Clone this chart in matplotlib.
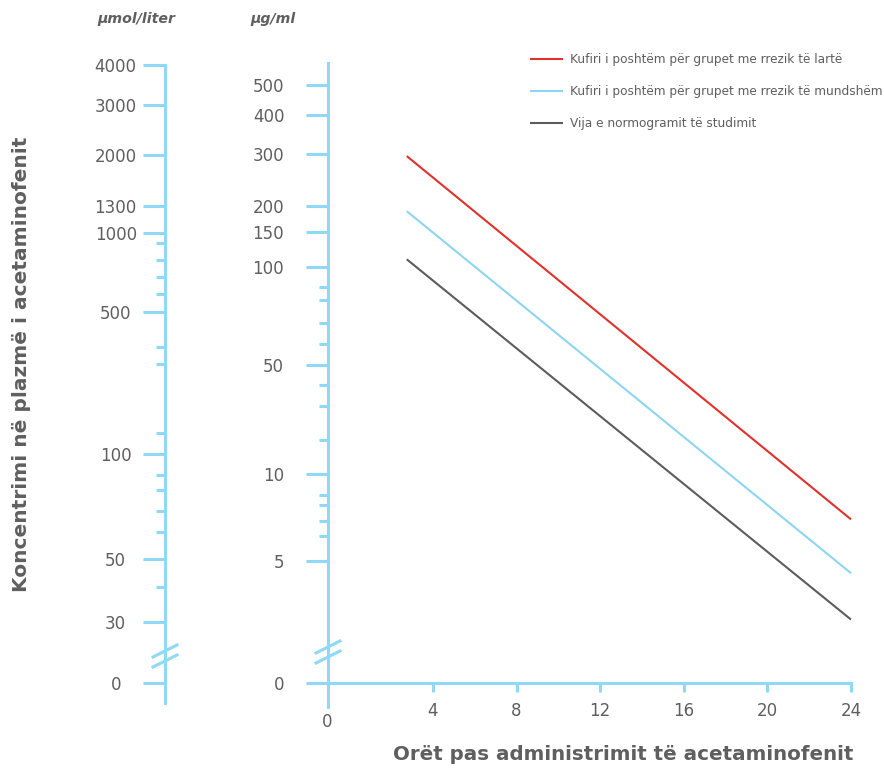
import numpy as np
import matplotlib
matplotlib.use("Agg")
import matplotlib.pyplot as plt
from matplotlib.ticker import NullLocator

W, H = 884, 769

# series: hours after ingestion and plasma level in µg/ml at both ends of each line
HOURS = [3, 24]
HIGH_RISK = [296, 7.1]
POSSIBLE_RISK = [190, 4.5]
STUDY_LINE = [111, 2.6]

LABELS = [
    "Kufiri i poshtëm për grupet me rrezik të lartë",
    "Kufiri i poshtëm për grupet me rrezik të mundshëm",
    "Vija e normogramit të studimit",
]

UG_MAJOR = [0, 5, 10, 50, 100, 150, 200, 300, 400, 500]
UG_MINOR = [6, 7, 8, 9, 20, 30, 40, 60, 70, 80, 90]
UMOL_MAJOR = [0, 30, 50, 100, 500, 1000, 1300, 2000, 3000, 4000]
UMOL_MINOR = [40, 60, 70, 80, 90, 200, 300, 400, 600, 700, 800, 900]
HOUR_TICKS = [4, 8, 12, 16, 20, 24]

# layout of the hand drawn scales (pixel row / column of each tick value)
UG_PX = {0: 683, 5: 561, 6: 536, 7: 521, 8: 505, 9: 495, 10: 474, 20: 440,
         30: 406, 40: 385, 50: 365, 60: 344, 70: 323, 80: 300, 90: 287,
         100: 267, 150: 232, 200: 206, 300: 154, 400: 115, 500: 85}
UMOL_PX = {0: 683, 30: 622, 40: 587, 50: 559, 60: 532, 70: 511, 80: 490,
           90: 475, 100: 454, 200: 433, 300: 364, 400: 347, 500: 312,
           600: 294, 700: 277, 800: 260, 900: 243, 1000: 233, 1300: 206,
           2000: 155, 3000: 105, 4000: 65}
HOUR_PX = {0: 328, 4: 433, 24: 851}

BLUE = "#8fd8f6"
RED = "#e0312b"
CYAN = "#8dd5f0"
DARK = "#5c5c5c"
TEXT = "#5f5f5f"

plt.rcParams["font.family"] = ["DejaVu Sans"]


def piecewise(anchor, flip):
    keys = sorted(anchor)
    vals = np.array(keys, float)
    pos = np.array([H - anchor[k] if flip else anchor[k] for k in keys], float)
    s0 = (pos[1] - pos[0]) / (vals[1] - vals[0])
    s1 = (pos[-1] - pos[-2]) / (vals[-1] - vals[-2])

    def fwd(v):
        v = np.asarray(v, float)
        out = np.interp(v, vals, pos)
        out = np.where(v < vals[0], pos[0] + (v - vals[0]) * s0, out)
        return np.where(v > vals[-1], pos[-1] + (v - vals[-1]) * s1, out)

    def inv(p):
        p = np.asarray(p, float)
        out = np.interp(p, pos, vals)
        out = np.where(p < pos[0], vals[0] + (p - pos[0]) / s0, out)
        return np.where(p > pos[-1], vals[-1] + (p - pos[-1]) / s1, out)

    return fwd, inv


hx_f, hx_i = piecewise(HOUR_PX, False)
ug_f, ug_i = piecewise(UG_PX, True)
um_f, um_i = piecewise(UMOL_PX, True)

fig = plt.figure(figsize=(W / 100, H / 100), dpi=100)

# main plot (µg/ml)
ax = fig.add_axes([0, 0, 1, 1])
ax.patch.set_alpha(0)
ax.set_xscale("function", functions=(hx_f, hx_i))
ax.set_yscale("function", functions=(ug_f, ug_i))
ax.set_xlim(float(hx_i(0)), float(hx_i(W)))
ax.set_ylim(float(ug_i(0)), float(ug_i(H)))

for s in ["top", "right"]:
    ax.spines[s].set_visible(False)
for s in ["left", "bottom"]:
    ax.spines[s].set_position(("data", 0))
    ax.spines[s].set_color(BLUE)
    ax.spines[s].set_linewidth(2.2)
ax.spines["left"].set_bounds(float(ug_i(H - 707)), float(ug_i(H - 63)))
ax.spines["bottom"].set_bounds(float(hx_i(309)), 24)

ax.set_yticks(UG_MAJOR)
ax.set_yticks(UG_MINOR, minor=True)
ax.set_yticklabels([str(v) for v in UG_MAJOR])
ax.tick_params(axis="y", which="major", length=16, width=2.2, color=BLUE,
               pad=15.5, labelsize=12, labelcolor=TEXT)
ax.tick_params(axis="y", which="minor", length=6.5, width=2.2, color=BLUE)

ax.set_xticks(HOUR_TICKS)
ax.xaxis.set_minor_locator(NullLocator())
ax.set_xticklabels([str(v) for v in HOUR_TICKS])
ax.tick_params(axis="x", length=6.5, width=2.2, color=BLUE, pad=7,
               labelsize=12, labelcolor=TEXT)
ax.annotate("0", xy=(0, 0), xytext=(-1, -39), textcoords="offset pixels",
            ha="center", va="center", fontsize=12, color=TEXT)

l1, = ax.plot(HOURS, HIGH_RISK, color=RED, lw=1.5, solid_capstyle="butt")
l2, = ax.plot(HOURS, POSSIBLE_RISK, color=CYAN, lw=1.5, solid_capstyle="butt")
l3, = ax.plot(HOURS, STUDY_LINE, color=DARK, lw=1.5, solid_capstyle="butt")

ax.legend([l1, l2, l3], LABELS, loc="upper left",
          bbox_to_anchor=(530 / W, 1 - 53 / H), bbox_transform=fig.transFigure,
          frameon=False, fontsize=8.7, handlelength=2.75, handletextpad=0.6,
          labelspacing=1.58, borderpad=0, borderaxespad=0, labelcolor=TEXT)

# left scale (µmol/liter)
ax2 = fig.add_axes([0, 0, 1, 1])
ax2.patch.set_alpha(0)
ax2.set_xlim(0, W)
ax2.set_yscale("function", functions=(um_f, um_i))
ax2.set_ylim(float(um_i(0)), float(um_i(H)))
for s in ["top", "right", "bottom"]:
    ax2.spines[s].set_visible(False)
ax2.spines["left"].set_position(("data", 165))
ax2.spines["left"].set_color(BLUE)
ax2.spines["left"].set_linewidth(2.2)
ax2.spines["left"].set_bounds(float(um_i(H - 703)), float(um_i(H - 65)))
ax2.set_xticks([])
ax2.set_yticks(UMOL_MAJOR)
ax2.set_yticks(UMOL_MINOR, minor=True)
ax2.set_yticklabels([str(v) for v in UMOL_MAJOR])
ax2.tick_params(axis="y", which="major", length=16, width=2.2, color=BLUE,
                pad=19.5, labelsize=12, labelcolor=TEXT)
ax2.tick_params(axis="y", which="minor", length=6.5, width=2.2, color=BLUE)
for t in ax2.get_yticklabels():
    t.set_horizontalalignment("center")

# axis break marks
for cx, cy in [(165, 651), (328, 647)]:
    for dy in (0, 10):
        fig.add_artist(plt.Line2D([(cx - 12) / W, (cx + 12) / W],
                                  [1 - (cy + dy + 6) / H, 1 - (cy + dy - 6) / H],
                                  color=BLUE, lw=2.2))

fig.text(136 / W, 1 - 19 / H, "µmol/liter", ha="center", va="center",
         style="italic", weight="semibold", fontsize=10.2, color=TEXT)
fig.text(273 / W, 1 - 19 / H, "µg/ml", ha="center", va="center",
         style="italic", weight="semibold", fontsize=10.2, color=TEXT)

fig.text(623 / W, 1 - 754 / H, "Orët pas administrimit të acetaminofenit",
         ha="center", va="center", weight="bold", fontsize=14.3, color=TEXT)
fig.text(22 / W, 1 - 364 / H, "Koncentrimi në plazmë i acetaminofenit",
         ha="center", va="center", rotation=90, weight="bold", fontsize=14.5,
         color=TEXT)

fig.savefig("out.png", dpi=100)
